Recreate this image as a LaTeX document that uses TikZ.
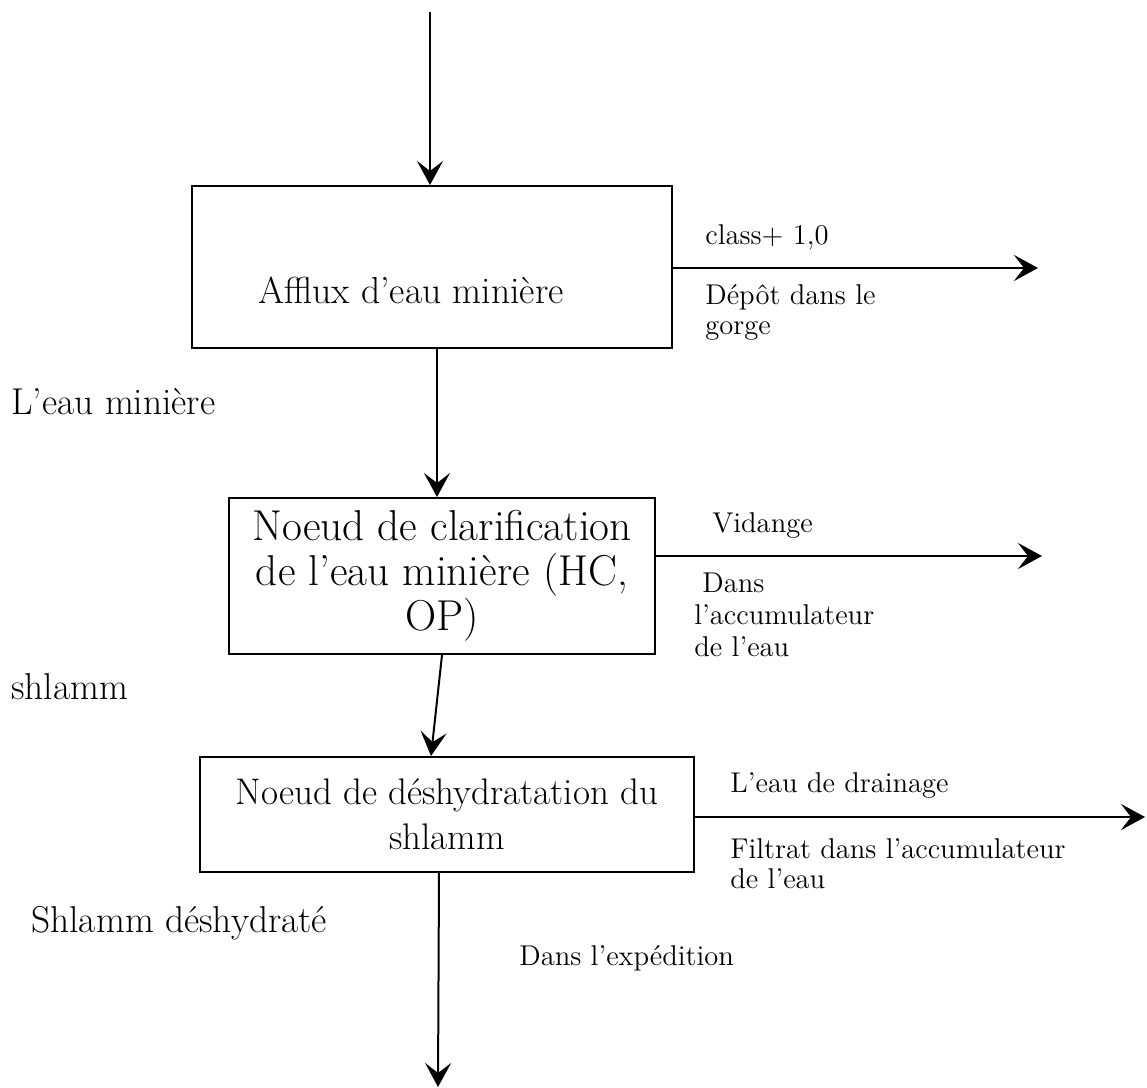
\documentclass[tikz,border=0pt]{standalone}
\usetikzlibrary{arrows.meta,calc}
\begin{document}
\begin{tikzpicture}[x=0.5pt,y=-0.5pt,
  boxnode/.style={draw,line width=1pt,inner sep=0pt,align=center},
  arr/.style={line width=1pt,-{Stealth[length=12pt,width=13pt,inset=5pt]}},
  harr/.style={line width=1.4pt,-{Stealth[length=12pt,width=13pt,inset=5pt]}},
  bigtxt/.style={font=\fontsize{18.5}{22.5}\selectfont},
  midtxt/.style={font=\fontsize{18.7}{22}\selectfont,inner sep=0pt,anchor=west},
  smalltxt/.style={font=\fontsize{14.3}{15}\selectfont,inner sep=0pt,anchor=west,align=left}]
\useasboundingbox (0,0) rectangle (1147,1088);
% boxes
\node[boxnode,minimum width=240pt,minimum height=81pt] (b1) at (432,267) {};
\node[inner sep=0pt,font=\fontsize{18.8}{22}\selectfont] (t1) at (411,290) {Afflux d'eau minière};
\node[boxnode,font=\fontsize{21.6}{22.5}\selectfont,minimum width=213pt,minimum height=78pt] (b2) at (442,576) {Noeud de clarification\\de l'eau minière (HC,\\OP)};
\node[boxnode,bigtxt,minimum width=247pt,minimum height=57.5pt] (b3) at (447,814.5) {Noeud de déshydratation du\\shlamm};
% coordinates
\coordinate (top) at (430,12);
\coordinate (e1) at (1038,268);
\coordinate (e2) at (1042,556);
\coordinate (e3) at (1145,817);
\coordinate (bot) at (438,1087);
% connectors
\draw[arr] (top) -- (top |- b1.north);
\draw[arr] ($(b1.south)+(5,0)$) -- ($(b2.north)+(-5,0)$);
\draw[arr] (b2.south) -- ($(b3.north)+(-16,0)$);
\draw[arr] ($(b3.south)+(-8,0)$) -- (bot);
\draw[harr] (b1.east |- e1) -- (e1);
\draw[harr] (b2.east |- e2) -- (e2);
\draw[harr] (b3.east |- e3) -- (e3);
% labels
\node[smalltxt] (l1) at (705,237) {class+ 1,0};
\node[smalltxt] (l2) at (705,312) {Dépôt dans le\\gorge};
\node[midtxt] (l3) at (11,402) {L'eau minière};
\node[smalltxt] (l4) at (712,525) {Vidange};
\node[smalltxt,font=\fontsize{14.3}{16}\selectfont] (l5) at (694,615) {\hspace*{4pt}Dans\\l'accumulateur\\de l'eau};
\node[midtxt] (l6) at (11,687) {shlamm};
\node[smalltxt] (l7) at (730,785) {L'eau de drainage};
\node[smalltxt] (l8) at (730,864) {Filtrat dans l'accumulateur\\de l'eau};
\node[midtxt] (l9) at (31,923) {Shlamm déshydraté};
\node[smalltxt] (l10) at (519,958) {Dans l'expédition};
\end{tikzpicture}
\end{document}
